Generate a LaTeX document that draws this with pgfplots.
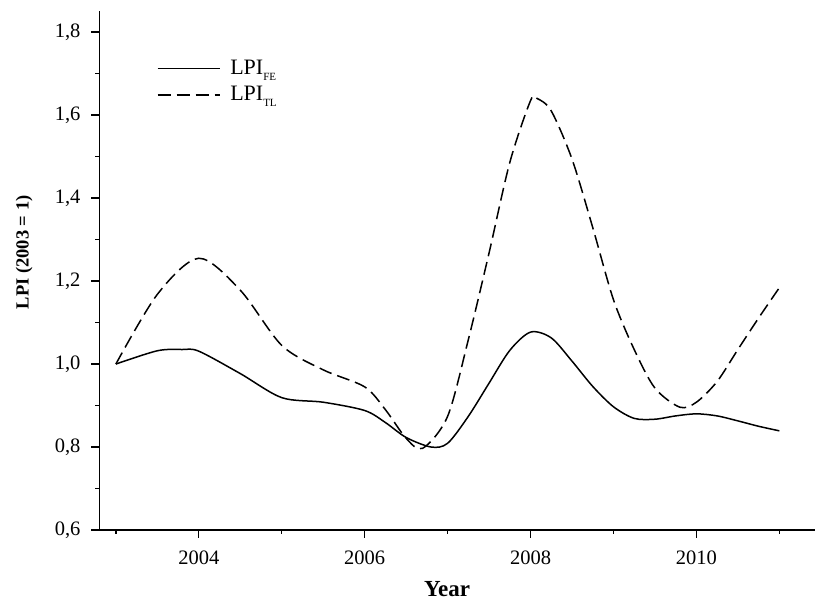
\documentclass[border=0pt]{standalone}
\usepackage{fontspec}
\setmainfont{Liberation Serif}
\usepackage{pgfplots}
\pgfplotsset{compat=1.18}

\newcommand{\sub}[1]{\raisebox{-6pt}{\fontsize{11}{12}\selectfont #1}}
\begin{document}
\fontsize{20}{24}\selectfont
\begin{tikzpicture}
\begin{axis}[
  scale only axis,
  width=715.7pt, height=519pt,
  xmin=2002.8, xmax=2011.43,
  ymin=0.6, ymax=1.851,
  axis x line=bottom, axis y line=left,
  axis line style={-, line width=1.3pt},
  tick align=outside,
  major tick length=8pt, minor tick length=4pt,
  every tick/.style={line width=1.3pt, black},
  xtick={2004,2006,2008,2010},
  minor xtick={2003,2005,2007,2009,2011},
  ytick={0.6,0.8,1.0,1.2,1.4,1.6,1.8},
  minor ytick={0.7,0.9,1.1,1.3,1.5,1.7},
  /pgf/number format/assume math mode=true,
  xticklabel style={/pgf/number format/1000 sep={}, yshift=-6pt},
  yticklabel style={xshift=-4pt, /pgf/number format/use comma, /pgf/number format/fixed, /pgf/number format/fixed zerofill, /pgf/number format/precision=1},
  ticklabel style={font=\fontsize{20.5}{24}\selectfont},
  xlabel={\textbf{Year}},
  ylabel={\textbf{LPI (2003 = 1)}},
  xlabel style={font=\fontsize{23}{26}\selectfont, at={(axis description cs:0.486,0)}, anchor=base, yshift=-67pt},
  ylabel style={font=\fontsize{18.5}{22}\selectfont, at={(axis description cs:-0.105,0.535)}, anchor=center},
  legend style={draw=none, fill=none, at={(axis description cs:0.08,0.91)}, anchor=north west,
    font=\fontsize{22}{26}\selectfont, inner sep=0pt, row sep=5pt, cells={anchor=west},
    /tikz/every odd column/.append style={column sep=8pt}},
  legend image code/.code={\draw[#1] (0pt,0pt) -- (62pt,0pt);},
]
\addplot[black, line width=1.5pt, smooth, tension=0.5] coordinates {
(2003,1.000) (2003.5,1.032) (2003.8,1.035) (2004,1.031) (2004.5,0.977) (2005,0.919)
(2005.5,0.908) (2006,0.888) (2006.25,0.859) (2006.5,0.823) (2006.8,0.800) (2007,0.809)
(2007.25,0.874) (2007.5,0.954) (2007.75,1.033) (2008,1.077) (2008.25,1.063) (2008.5,1.007)
(2008.75,0.946) (2009,0.897) (2009.25,0.869) (2009.5,0.867) (2009.75,0.875) (2010,0.880)
(2010.25,0.875) (2010.5,0.863) (2010.75,0.850) (2011,0.839)
};
\addlegendentry{LPI\sub{FE}}
\addplot[black, line width=1.5pt, dash pattern=on 13pt off 6pt, smooth, tension=0.5] coordinates {
(2003,1.000) (2003.5,1.168) (2004,1.255) (2004.5,1.178) (2005,1.045) (2005.5,0.986)
(2006,0.945) (2006.25,0.890) (2006.5,0.821) (2006.7,0.797) (2007,0.874) (2007.25,1.059)
(2007.5,1.268) (2007.75,1.486) (2008,1.635) (2008.08,1.640) (2008.25,1.610) (2008.5,1.494)
(2008.75,1.329) (2009,1.155) (2009.25,1.035) (2009.5,0.942) (2009.8,0.896) (2010,0.908)
(2010.25,0.958) (2010.5,1.035) (2010.75,1.111) (2011,1.184)
};
\addlegendentry{LPI\sub{TL}}
\end{axis}
\pgfresetboundingbox
\path[use as bounding box] (current axis.south west) ++(-99.3pt,-71pt) rectangle ++(815pt,601pt);
\end{tikzpicture}
\end{document}
